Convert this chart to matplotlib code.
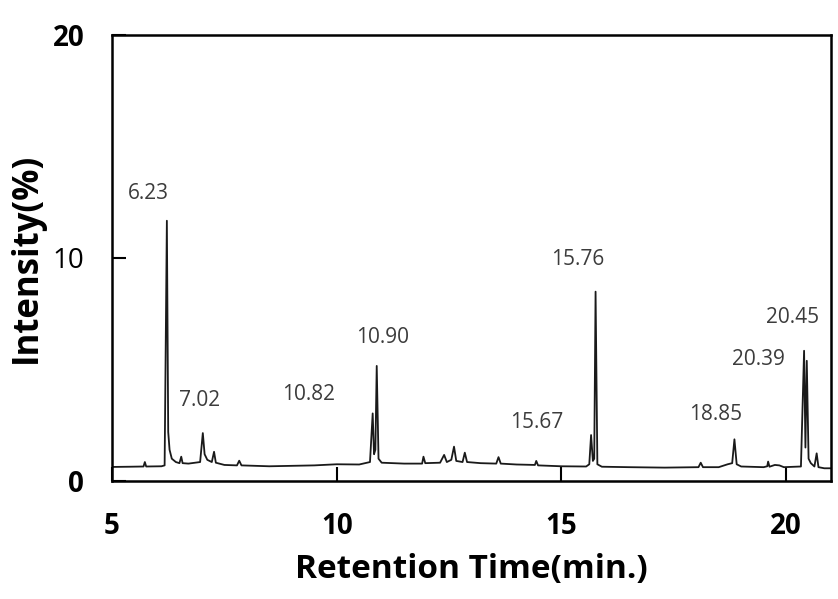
import matplotlib
matplotlib.use("Agg")
import matplotlib.pyplot as plt

plt.rcParams['font.family'] = ['Open Sans', 'DejaVu Sans']

# chromatogram trace, vertices (min, %)
rt = [5.00, 5.40, 5.70, 5.73, 5.76, 6.10, 6.17, 6.22, 6.25, 6.28, 6.33, 6.42,
      6.50, 6.54, 6.57, 6.70, 6.96, 7.02, 7.06, 7.12, 7.22, 7.27, 7.31, 7.50,
      7.78, 7.83, 7.88, 8.50, 9.00, 9.50, 10.00, 10.50, 10.74, 10.80, 10.83,
      10.86, 10.89, 10.93, 11.00, 11.50, 11.90, 11.93, 11.97, 12.30, 12.39,
      12.45, 12.55, 12.61, 12.66, 12.80, 12.85, 12.90, 13.20, 13.55, 13.60,
      13.65, 14.00, 14.41, 14.44, 14.48, 15.00, 15.55, 15.62, 15.66, 15.70,
      15.73, 15.76, 15.80, 15.90, 16.50, 17.30, 18.05, 18.10, 18.15, 18.50,
      18.70, 18.80, 18.85, 18.90, 19.00, 19.50, 19.58, 19.60, 19.63, 19.75,
      19.85, 19.95, 20.33, 20.40, 20.43, 20.46, 20.50, 20.55, 20.63, 20.68,
      20.72, 20.85, 21.00]
intensity = [0.63, 0.64, 0.65, 0.85, 0.65, 0.66, 0.70, 11.67, 2.20, 1.40, 1.00,
             0.85, 0.80, 1.09, 0.80, 0.78, 0.85, 2.15, 1.20, 0.95, 0.85, 1.31,
             0.82, 0.72, 0.70, 0.91, 0.70, 0.66, 0.68, 0.70, 0.75, 0.74, 0.85,
             3.03, 1.20, 1.40, 5.16, 1.00, 0.82, 0.78, 0.78, 1.09, 0.80, 0.82,
             1.17, 0.85, 0.95, 1.54, 0.90, 0.85, 1.27, 0.85, 0.80, 0.78, 1.07,
             0.78, 0.74, 0.72, 0.90, 0.70, 0.66, 0.65, 0.75, 2.06, 0.90, 1.00,
             8.49, 0.75, 0.64, 0.62, 0.60, 0.62, 0.82, 0.62, 0.62, 0.75, 0.80,
             1.87, 0.75, 0.65, 0.62, 0.66, 0.87, 0.64, 0.72, 0.70, 0.62, 0.65,
             5.84, 1.50, 5.39, 1.00, 0.80, 0.65, 1.24, 0.62, 0.57, 0.57]

# peak labels and where they sit
peak_labels = ['6.23', '7.02', '10.82', '10.90', '15.67', '15.76', '18.85',
               '20.39', '20.45']
label_x = [5.80, 6.94, 9.37, 11.01, 14.46, 15.36, 18.44, 19.39, 20.14]
label_y = [12.87, 3.63, 3.89, 6.43, 2.61, 9.94, 2.96, 5.43, 7.34]

fig = plt.figure(figsize=(8.38, 5.99), dpi=100)
ax = fig.add_axes([0.1337, 0.197, 0.858, 0.7446])

ax.plot(rt, intensity, color='#1a1a1a', lw=1.3)

for lab, x, y in zip(peak_labels, label_x, label_y):
    ax.text(x, y, lab, ha='center', va='center', fontsize=15,
            color='#3c3c3c')

ax.set_xlim(5, 21)
ax.set_ylim(0, 20)
ax.set_xticks([5, 10, 15, 20])
ax.set_yticks([0, 10, 20])
ax.tick_params(direction='in', length=10, width=1.5, labelsize=20)
ax.tick_params(axis='x', pad=22)
ax.tick_params(axis='y', pad=20)
for lab in ax.get_xticklabels() + ax.get_yticklabels():
    lab.set_fontweight('bold')
ax.get_yticklabels()[1].set_fontweight('normal')
for sp in ax.spines.values():
    sp.set_linewidth(1.8)

ax.set_xlabel('Retention Time(min.)', fontsize=24, fontweight='bold',
              labelpad=9)
ax.set_ylabel('Intensity(%)', fontsize=25, fontweight='bold')
ax.yaxis.set_label_coords(-0.094, 0.5)

fig.savefig('out.png', dpi=100)
